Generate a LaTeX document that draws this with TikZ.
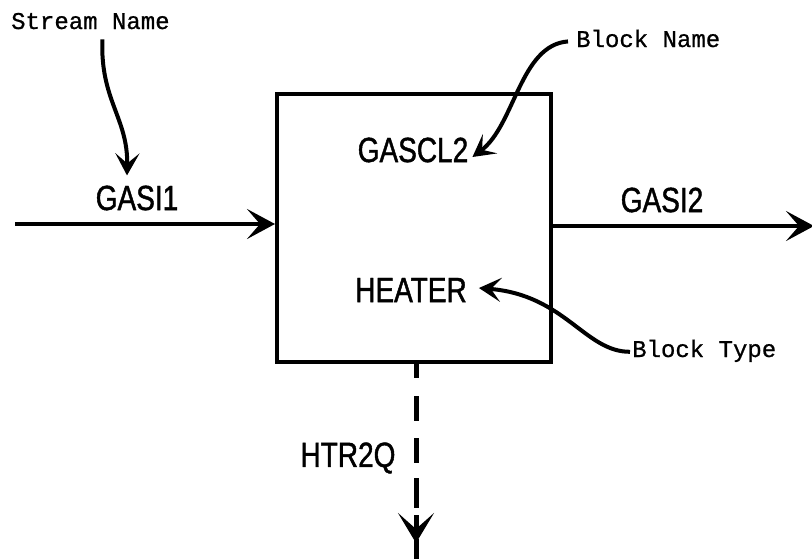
\documentclass[tikz,border=0pt]{standalone}
\usepackage{fontspec}
\usetikzlibrary{arrows.meta}
\newfontfamily\labfont[FakeStretch=0.8,FakeBold=1.2]{Liberation Sans}
\newfontfamily\notefont[FakeBold=0.8]{Liberation Mono}
\tikzset{
  lab/.style={font=\labfont\fontsize{35}{40}\selectfont, inner sep=0pt},
  note/.style={font=\notefont\fontsize{24}{28}\selectfont, inner sep=0pt},
  blk/.style={draw, line width=4pt, minimum width=274pt, minimum height=268pt, inner sep=0pt},
  flow/.style={line width=3.5pt, -{Stealth[length=28pt,width=30pt,inset=13pt]}},
  pointer/.style={line width=4pt, -{Stealth[length=22pt,width=24pt,inset=10pt]}},
  heatflow/.style={line width=5pt, dash pattern=on 14pt off 18pt on 25pt off 17pt on 25pt off 15pt on 30pt off 8pt}
}
\begin{document}
\begin{tikzpicture}[x=1pt,y=-1pt]
\useasboundingbox (0,0) rectangle (812,558);
\node[blk] (box) at (414,228) {};
\node[lab] (gascl2) at (413,150) {GASCL2};
\node[lab] (heater) at (411,290) {HEATER};
\node[lab] (gasi1) at (137,198) {GASI1};
\node[lab] (gasi2) at (662,200) {GASI2};
\node[lab] (htr2q) at (348,458) {HTR2Q};
\node[note, anchor=base west] (sname) at (11,29) {Stream Name};
\node[note, anchor=base west] (bname) at (576,47) {Block Name};
\node[note, anchor=base west] (btype) at (632,357) {Block Type};
\coordinate (in) at (15,224);
\coordinate (out) at (814,226);
\coordinate (qend) at (416,509);
\coordinate (qtip) at (416,543);
\coordinate (qbot) at (416,560);
% streams
\draw[flow] (in) -- (in -| box.west);
\draw[flow] (box.east |- out) -- (out);
\draw[heatflow] (box.south -| qend) -- (qend);
\draw[line width=5pt, -{Stealth[length=30pt,width=36pt,inset=16pt]}] ([yshift=-6pt]qend) -- (qtip);
\draw[line width=5pt] ([yshift=4pt]qtip) -- (qbot);
% pointers
\draw[pointer] ([xshift=12pt,yshift=-10pt]sname.south) .. controls (100,100) and (128,118) .. ([xshift=-10pt,yshift=10pt]gasi1.north);
\draw[pointer] ([xshift=-8pt,yshift=-3pt]bname.west) .. controls (520,45) and (515,125) .. ([xshift=4pt,yshift=-7pt]gascl2.east);
\draw[pointer] ([xshift=-2pt,yshift=-1pt]btype.west) .. controls (585,352) and (565,295) .. ([xshift=12pt,yshift=2pt]heater.east);
\end{tikzpicture}
\end{document}
